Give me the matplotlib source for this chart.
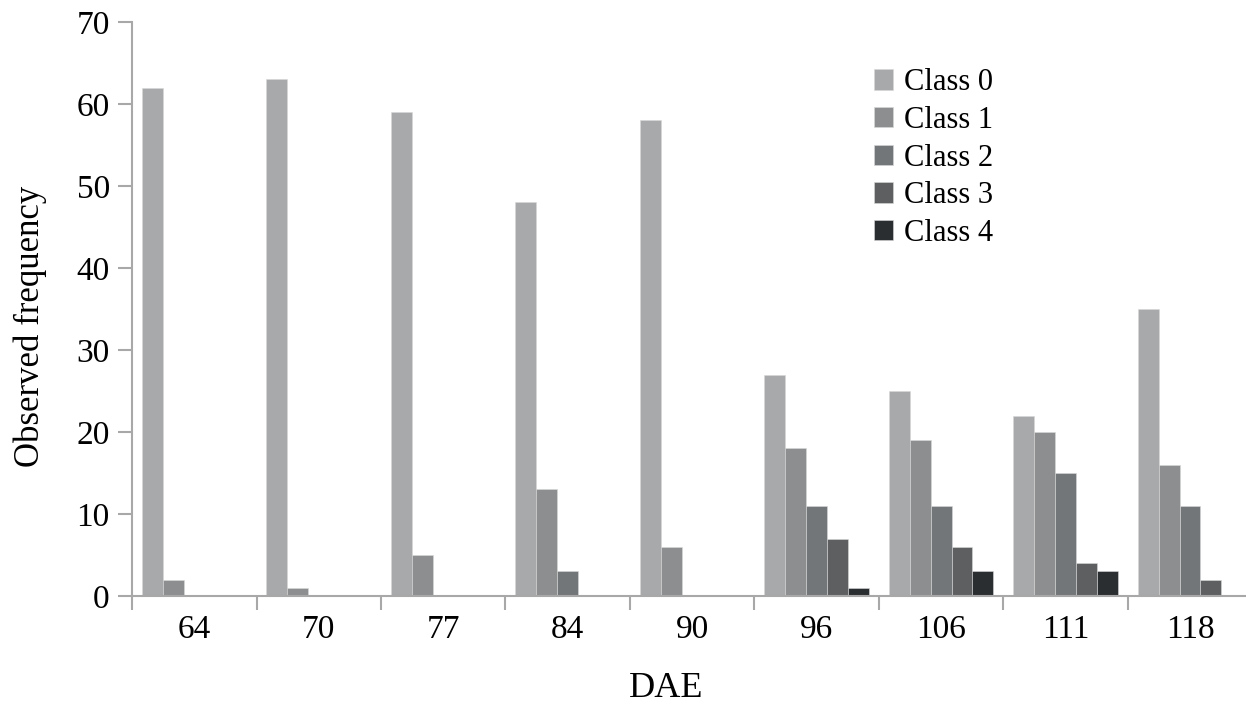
import numpy as np
import matplotlib.pyplot as plt
from matplotlib.ticker import FixedLocator, NullFormatter

plt.rcParams['font.family'] = ['Liberation Serif', 'DejaVu Serif']

dae = ['64', '70', '77', '84', '90', '96', '106', '111', '118']
class0 = [62, 63, 59, 48, 58, 27, 25, 22, 35]
class1 = [2, 1, 5, 13, 6, 18, 19, 20, 16]
class2 = [0, 0, 0, 3, 0, 11, 11, 15, 11]
class3 = [0, 0, 0, 0, 0, 7, 6, 4, 2]
class4 = [0, 0, 0, 0, 0, 1, 3, 3, 0]

series = [class0, class1, class2, class3, class4]
labels = ['Class 0', 'Class 1', 'Class 2', 'Class 3', 'Class 4']
colors = ['#a7a9aa', '#8c8e8f', '#737678', '#5d5f61', '#2b2e30']

fig = plt.figure(figsize=(12.46, 7.05), dpi=100)
ax = fig.add_axes([0.106, 0.1546, 0.899, 0.8142])

x = np.arange(len(dae))
w = 0.168
for i, (vals, lab, col) in enumerate(zip(series, labels, colors)):
    ax.bar(x + (i - 2) * w, vals, width=w, color=col, label=lab,
           edgecolor='#d8d8d8', linewidth=0.4)

ax.set_xlim(-0.5, 8.5)
ax.set_ylim(0, 70)
ax.set_yticks(range(0, 71, 10))

# labels at group centres, tick marks at group boundaries
ax.set_xticks(x)
ax.set_xticklabels(dae)
ax.tick_params(axis='x', which='major', length=0, pad=13, labelsize=24)
ax.xaxis.set_minor_locator(FixedLocator(np.arange(-0.5, 9, 1)))
ax.xaxis.set_minor_formatter(NullFormatter())
ax.tick_params(axis='x', which='minor', length=10, width=1.5, color='#a8a8a8')
ax.tick_params(axis='y', length=10, width=1.5, color='#a8a8a8', labelsize=24, pad=6)

for s in ['top', 'right']:
    ax.spines[s].set_visible(False)
for s in ['left', 'bottom']:
    ax.spines[s].set_color('#a8a8a8')
    ax.spines[s].set_linewidth(1.5)

ax.set_ylabel('Observed frequency', fontsize=25)
ax.yaxis.set_label_coords(-0.076, 0.469)
fig.text(0.535, 0.024, 'DAE', ha='center', va='center', fontsize=26)

ax.legend(loc='upper left', bbox_to_anchor=(0.679, 0.942), bbox_transform=fig.transFigure,
          frameon=False, fontsize=22, handlelength=0.65, handleheight=0.65,
          handletextpad=0.35, labelspacing=0.28)

fig.savefig('out.png', dpi=100)
